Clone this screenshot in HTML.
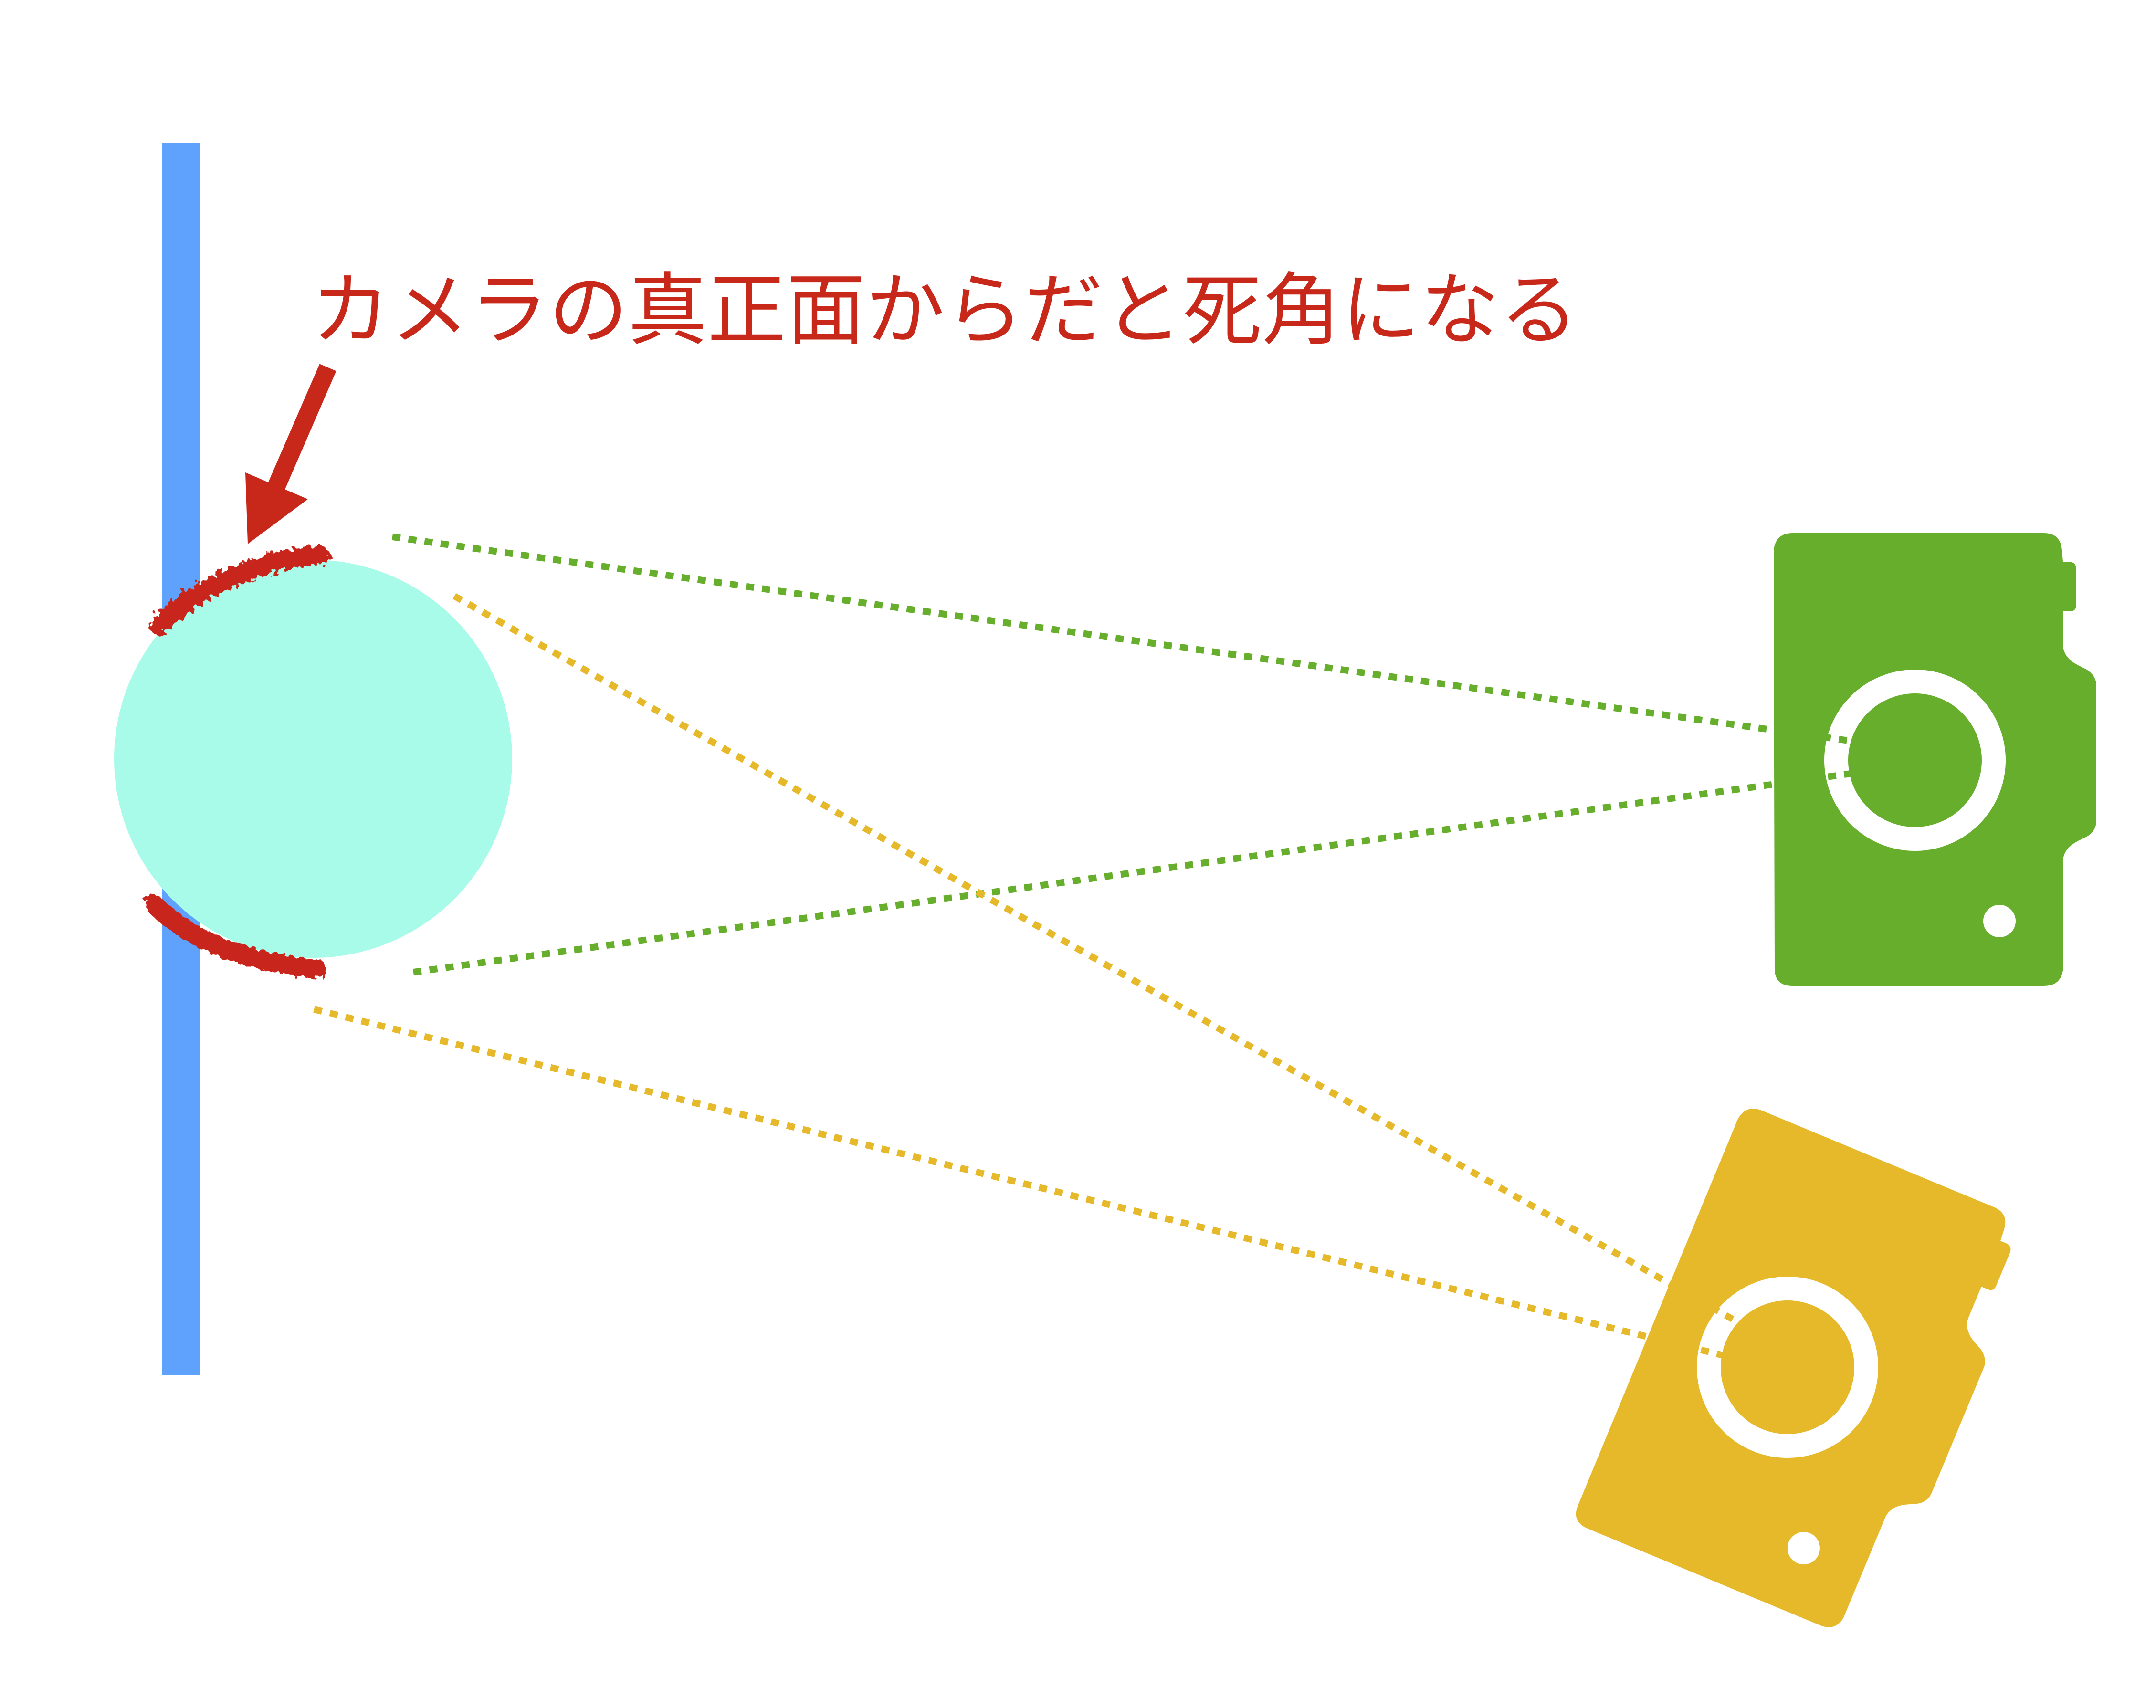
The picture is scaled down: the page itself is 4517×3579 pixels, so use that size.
<!DOCTYPE html>
<html><head><meta charset="utf-8"><style>
html,body{margin:0;padding:0;background:#fff;}
svg{display:block;}
</style></head><body>
<svg width="4517" height="3579" viewBox="0 0 4517 3579" xmlns="http://www.w3.org/2000/svg">
<defs>
<filter id="rough" x="-20%" y="-50%" width="140%" height="200%">
<feTurbulence type="fractalNoise" baseFrequency="0.08" numOctaves="2" seed="3"/>
<feDisplacementMap in="SourceGraphic" scale="24"/>
</filter>
<g id="cam">
<path d="M-256,-476 L270,-476 Q305,-476 308,-440 L310,-416 L325,-416 Q338,-414 338,-400 L338,-326 Q338,-312 325,-312 L310,-312 L310,-240 Q312,-215 340,-200 L360,-190 Q378,-178 380,-160 L380,130 Q378,150 360,160 L340,170 Q312,185 310,210 L310,440 Q305,473 270,473 L-256,473 Q-292,473 -294,440 L-296,-440 Q-292,-476 -256,-476 Z"/>
<circle cx="0" cy="0" r="165" fill="none" stroke="#fff" stroke-width="50"/>
<circle cx="177" cy="337" r="34" fill="#fff"/>
</g>
</defs>
<rect x="340" y="300" width="78" height="2582" fill="#5ea2fe"/>
<circle cx="656" cy="1590" r="417" fill="#a8fbe8"/>
<g fill="none" stroke="#c8281a" stroke-width="40" stroke-linecap="round" filter="url(#rough)">
<path d="M332,1310 Q460,1185 669,1163"/>
<path d="M323,1895 Q440,2010 664,2030"/>
</g>
<line x1="687" y1="770" x2="570" y2="1040" stroke="#c8281a" stroke-width="38"/>
<polygon points="519,1140 514,990 645,1046" fill="#c8281a"/>
<text x="652" y="707" font-family="'Liberation Sans','Noto Sans CJK JP',sans-serif" font-size="165" fill="#c8281a" textLength="2655">カメラの真正面からだと死角になる</text>
<g fill="#67ae2c"><use href="#cam" transform="translate(4012,1593)"/></g>
<g fill="#e6b92a"><use href="#cam" transform="translate(3745,2865) rotate(22.6)"/></g>
<g stroke-width="14" stroke-dasharray="17 17" fill="none">
<line x1="822" y1="1125" x2="3895" y2="1555" stroke="#67ae2c"/>
<line x1="866" y1="2037" x2="3885" y2="1620" stroke="#67ae2c"/>
<line x1="952" y1="1249" x2="3640" y2="2770" stroke="#e6b92a"/>
<line x1="658" y1="2115" x2="3610" y2="2840" stroke="#e6b92a"/>
</g>
</svg>
</body></html>
